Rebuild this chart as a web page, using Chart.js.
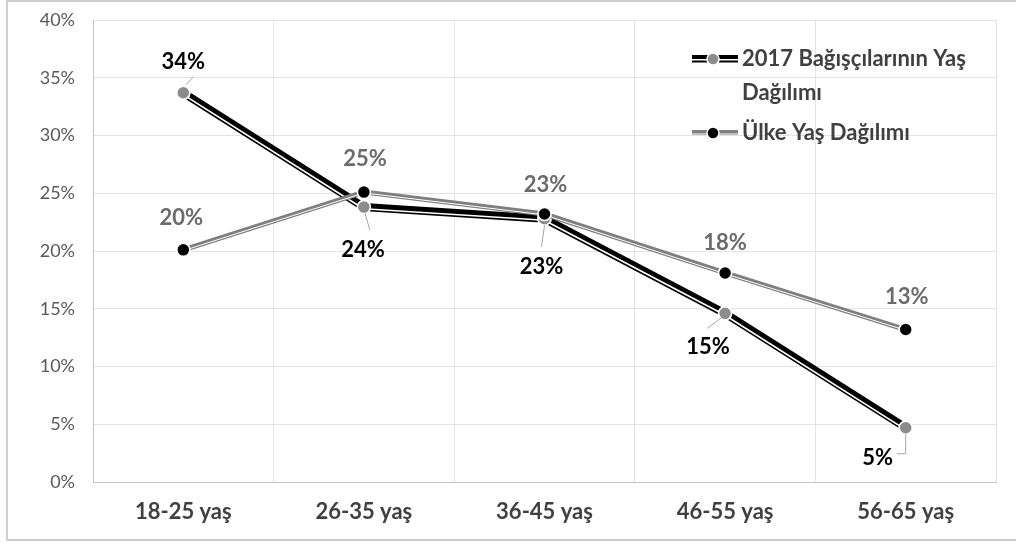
<!DOCTYPE html>
<html lang="tr">
<head>
<meta charset="utf-8">
<title>Yaş Dağılımı</title>
<script src="https://cdn.jsdelivr.net/npm/chart.js@4/dist/chart.umd.min.js"></script>
<style>
  html, body { margin: 0; padding: 0; background: #fff; overflow: hidden; }
  #wrap { position: relative; width: 1016px; height: 544px; overflow: hidden; }
  #frame {
    position: absolute; left: 6px; top: 0; width: 1060px; height: 541px;
    border: 2px solid #cfcfcf; box-sizing: border-box; pointer-events: none;
  }
  canvas { position: absolute; left: 0; top: 0; }
</style>
</head>
<body>
<div id="wrap">
  <canvas id="chart" width="1016" height="544"></canvas>
  <div id="frame"></div>
</div>
<script>
// Yaş grupları ve seriler (%)
const categories   = ['18-25 yaş', '26-35 yaş', '36-45 yaş', '46-55 yaş', '56-65 yaş'];
const donorShare   = [33.7, 23.8, 22.8, 14.6, 4.7];
const countryShare = [20.1, 25.1, 23.2, 18.1, 13.2];
const yTickValues  = [0, 5, 10, 15, 20, 25, 30, 35, 40];
const seriesNames  = ['2017 Bağışçılarının Yaş Dağılımı', 'Ülke Yaş Dağılımı'];

const FONT = 'Lato, "Open Sans", sans-serif';

// etiket yerleşimi (noktaya göre px)
const donorLabelOffset   = [[0, -31], [-1, 43], [-3, 48], [-17, 34], [-28, 30]];
const countryLabelOffset = [[-2, -32], [1, -33], [1, -29], [0, -30], [1, -33]];
const donorLeaders = [
  [[3, -8], [10, -16]],
  [[1, 6], [6, 23]],
  [[0, 7], [-3, 28]],
  [[-3, 4], [-18, 15]],
  [[0, 6], [0, 26], [-9, 26]],
];

// çift çizgi efekti: ana çizginin altına ince beyaz şerit
const stripePlugin = {
  id: 'stripe',
  afterDatasetDraw(chart, args) {
    const ds = chart.data.datasets[args.index];
    if (!ds.stripe) return;
    const ctx = chart.ctx;
    const pts = args.meta.data;
    ctx.save();
    ctx.strokeStyle = ds.stripe.color;
    ctx.lineWidth = ds.stripe.width;
    ctx.lineCap = 'butt';
    for (let i = 0; i < pts.length - 1; i++) {
      const a = pts[i], b = pts[i + 1];
      const dx = b.x - a.x, dy = b.y - a.y;
      const len = Math.hypot(dx, dy);
      let nx = -dy / len, ny = dx / len;
      if (ny < 0) { nx = -nx; ny = -ny; }
      const d = ds.stripe.offset;
      ctx.beginPath();
      ctx.moveTo(a.x + nx * d, a.y + ny * d);
      ctx.lineTo(b.x + nx * d, b.y + ny * d);
      ctx.stroke();
    }
    ctx.restore();
    pts.forEach(p => p.draw(ctx, chart.chartArea));
  },
};

// değer etiketleri ve kılavuz çizgileri
const labelPlugin = {
  id: 'valueLabels',
  afterDatasetsDraw(chart) {
    const ctx = chart.ctx;
    ctx.save();
    ctx.textAlign = 'center';
    ctx.textBaseline = 'middle';
    chart.data.datasets.forEach((ds, di) => {
      const meta = chart.getDatasetMeta(di);
      meta.data.forEach((p, i) => {
        if (ds.leaders) {
          const line = ds.leaders[i];
          ctx.strokeStyle = '#a6a6a6';
          ctx.lineWidth = 1;
          ctx.beginPath();
          line.forEach(([x, y], k) => k ? ctx.lineTo(p.x + x, p.y + y) : ctx.moveTo(p.x + x, p.y + y));
          ctx.stroke();
        }
        const [ox, oy] = ds.labelOffset[i];
        ctx.font = `bold 22px ${FONT}`;
        ctx.fillStyle = ds.labelColor;
        ctx.fillText(Math.round(ds.data[i]) + '%', p.x + ox, p.y + oy);
      });
    });
    ctx.restore();
  },
};

// sağ üstteki gösterge
const legendPlugin = {
  id: 'cornerLegend',
  afterDraw(chart) {
    const ctx = chart.ctx;
    const x0 = 692, x1 = 738, tx = 742;
    ctx.save();

    // bağışçı sembolü
    let y = 59;
    ctx.fillStyle = '#000';
    ctx.fillRect(x0, y - 4, x1 - x0, 4);
    ctx.fillRect(x0, y + 1.5, x1 - x0, 2);
    ctx.beginPath(); ctx.arc((x0 + x1) / 2 - 2, y, 6, 0, Math.PI * 2);
    ctx.fillStyle = '#8c8c8c'; ctx.fill();
    ctx.lineWidth = 1.5; ctx.strokeStyle = '#fff'; ctx.stroke();

    // ülke sembolü
    y = 133;
    ctx.fillStyle = '#7f7f7f';
    ctx.fillRect(x0, y - 3, x1 - x0, 5);
    ctx.fillStyle = '#fff';
    ctx.fillRect(x0, y + 0.5, x1 - x0, 1);
    ctx.beginPath(); ctx.arc((x0 + x1) / 2 - 2, y, 6, 0, Math.PI * 2);
    ctx.fillStyle = '#000'; ctx.fill();
    ctx.lineWidth = 1.5; ctx.strokeStyle = '#fff'; ctx.stroke();

    ctx.font = `bold 22px ${FONT}`;
    ctx.fillStyle = '#404040';
    ctx.textAlign = 'left';
    ctx.textBaseline = 'middle';
    ctx.fillText('2017 Bağışçılarının Yaş', tx, 59);
    ctx.fillText('Dağılımı', tx, 93);
    ctx.fillText(seriesNames[1], tx, 133);
    ctx.restore();
  },
};

new Chart(document.getElementById('chart'), {
  type: 'line',
  data: {
    labels: categories,
    datasets: [
      {
        label: seriesNames[0],
        data: donorShare,
        order: 1,
        borderColor: '#000',
        borderWidth: 8,
        pointRadius: 6.5,
        pointBackgroundColor: '#8c8c8c',
        pointBorderColor: '#fff',
        pointBorderWidth: 1.5,
        tension: 0,
        stripe: { color: '#fff', width: 1.6, offset: 1.6 },
        labelColor: '#000',
        labelOffset: donorLabelOffset,
        leaders: donorLeaders,
      },
      {
        label: seriesNames[1],
        data: countryShare,
        order: 0,
        borderColor: '#7f7f7f',
        borderWidth: 5,
        pointRadius: 6.5,
        pointBackgroundColor: '#000',
        pointBorderColor: '#fff',
        pointBorderWidth: 1.5,
        tension: 0,
        stripe: { color: '#fff', width: 1, offset: 0.8 },
        labelColor: '#6b6b6b',
        labelOffset: countryLabelOffset,
      },
    ],
  },
  options: {
    responsive: false,
    animation: false,
    layout: { autoPadding: false, padding: { left: 7, top: 20, right: 20, bottom: 4 } },
    plugins: {
      legend: { display: false },
      tooltip: { enabled: false },
    },
    scales: {
      x: {
        offset: true,
        grid: { offset: true, color: '#e3e3e3', drawTicks: false },
        border: { color: '#c4c4c4' },
        ticks: {
          color: '#404040',
          font: { family: FONT, size: 22, weight: 'bold' },
          padding: 17,
        },
        afterFit: (s) => { s.height = 58; },
      },
      y: {
        min: 0,
        max: 40,
        afterBuildTicks: (s) => { s.ticks = yTickValues.map(v => ({ value: v })); },
        grid: { color: '#e3e3e3', drawTicks: false },
        border: { color: '#c4c4c4' },
        ticks: {
          color: '#595959',
          font: { family: FONT, size: 18 },
          padding: 18,
          callback: (v) => v + '%',
        },
        afterFit: (s) => { s.width = 86; s.paddingTop = 0; s.paddingBottom = 0; },
      },
    },
  },
  plugins: [stripePlugin, labelPlugin, legendPlugin],
});
</script>
</body>
</html>
